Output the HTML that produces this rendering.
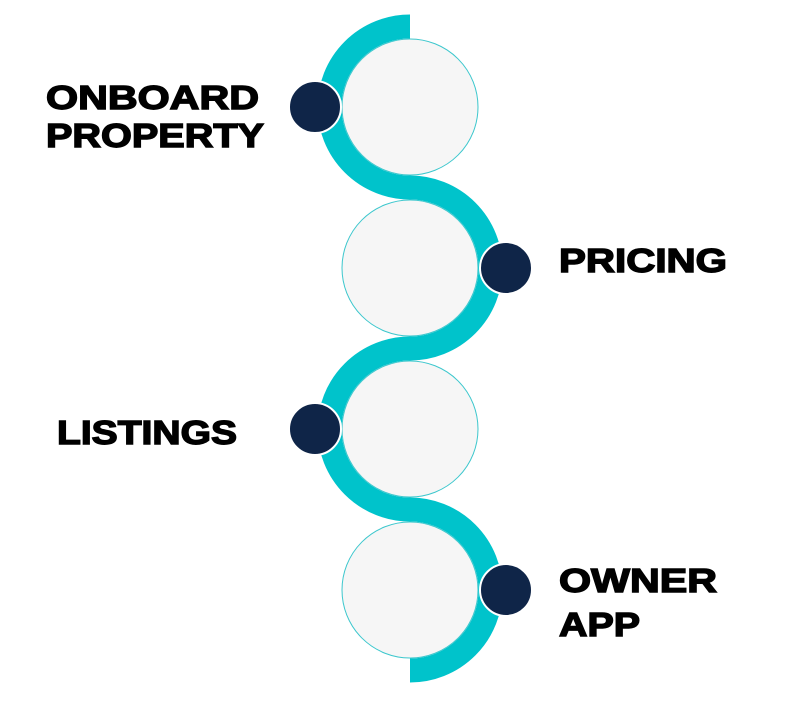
<!DOCTYPE html>
<html><head><style>html,body{margin:0;padding:0;background:#fff;}svg{display:block}</style></head>
<body>
<svg width="803" height="720" viewBox="0 0 803 720" xmlns="http://www.w3.org/2000/svg">
<path d="M410 26.5 A80.5 80.5 0 0 0 410 187.5 A80.5 80.5 0 0 1 410 348.5 A80.5 80.5 0 0 0 410 509.5 A80.5 80.5 0 0 1 410 670.5" fill="none" stroke="#00c3cb" stroke-width="24"/>
<g fill="#f6f6f6" stroke="#3cc7cd" stroke-width="1">
<circle cx="410" cy="107" r="68"/>
<circle cx="410" cy="268" r="68"/>
<circle cx="410" cy="429" r="68"/>
<circle cx="410" cy="590" r="68"/>
</g>
<g fill="#0f2548" stroke="#fff" stroke-width="2">
<circle cx="315" cy="107" r="26"/>
<circle cx="506" cy="268" r="26"/>
<circle cx="315" cy="429" r="26"/>
<circle cx="506" cy="590" r="26"/>
</g>
<g font-family="Liberation Sans, sans-serif" font-weight="bold" font-size="33" fill="#000" stroke="#000" stroke-width="1.4">
<text x="46" y="109" textLength="213" lengthAdjust="spacingAndGlyphs">ONBOARD</text>
<text x="46" y="147" textLength="218" lengthAdjust="spacingAndGlyphs">PROPERTY</text>
<text x="559" y="272" textLength="168" lengthAdjust="spacingAndGlyphs">PRICING</text>
<text x="57" y="444" textLength="180" lengthAdjust="spacingAndGlyphs">LISTINGS</text>
<text x="559" y="592" textLength="158" lengthAdjust="spacingAndGlyphs">OWNER</text>
<text x="559" y="636" textLength="81" lengthAdjust="spacingAndGlyphs">APP</text>
</g>
</svg>
</body></html>
